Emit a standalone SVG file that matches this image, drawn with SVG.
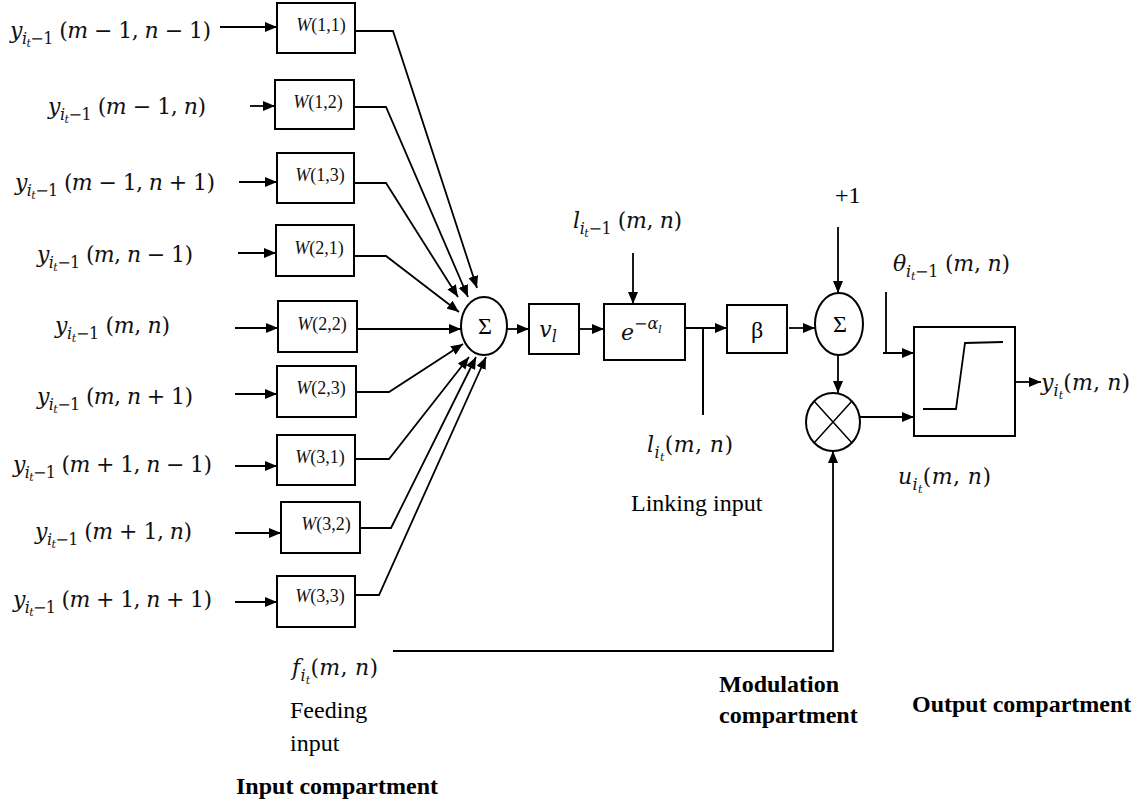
<svg xmlns="http://www.w3.org/2000/svg" width="1141" height="807" viewBox="0 0 1141 807">
<defs>
<marker id="ah" viewBox="0 0 12 10" refX="12" refY="5" markerWidth="12" markerHeight="10" markerUnits="userSpaceOnUse" orient="auto"><path d="M0,0 L12,5 L0,10 z" fill="#000"/></marker>
<style>
.box{fill:#fff;stroke:#000;stroke-width:2}
.ln{fill:none;stroke:#000;stroke-width:2}
.cn{fill:none;stroke:#000;stroke-width:1.8;marker-end:url(#ah)}
.m{font-family:"DejaVu Serif",serif;font-size:22px;fill:#111}
.i{font-style:italic}
.s{font-size:16px}
.ss{font-size:11px;font-style:italic}
.w{font-family:"Liberation Serif",serif;font-size:18px;fill:#111}
.t{font-family:"Liberation Serif",serif;font-size:24px;fill:#000}
.b{font-family:"Liberation Serif",serif;font-size:24px;font-weight:bold;fill:#000}
</style>
</defs>
<rect width="1141" height="807" fill="#fff"/>

<g id="input-labels">
<text class="m" x="10" y="38" textLength="201"><tspan class="i">y</tspan><tspan class="s i" dy="6">i</tspan><tspan class="ss" dy="3">t</tspan><tspan class="s" dy="-3">−1</tspan><tspan dy="-6"> (</tspan><tspan class="i">m</tspan> − 1, <tspan class="i">n</tspan> − 1)</text>
<text class="m" x="48" y="114" textLength="158"><tspan class="i">y</tspan><tspan class="s i" dy="6">i</tspan><tspan class="ss" dy="3">t</tspan><tspan class="s" dy="-3">−1</tspan><tspan dy="-6"> (</tspan><tspan class="i">m</tspan> − 1, <tspan class="i">n</tspan>)</text>
<text class="m" x="15" y="190" textLength="200"><tspan class="i">y</tspan><tspan class="s i" dy="6">i</tspan><tspan class="ss" dy="3">t</tspan><tspan class="s" dy="-3">−1</tspan><tspan dy="-6"> (</tspan><tspan class="i">m</tspan> − 1, <tspan class="i">n</tspan> + 1)</text>
<text class="m" x="37" y="262" textLength="156"><tspan class="i">y</tspan><tspan class="s i" dy="6">i</tspan><tspan class="ss" dy="3">t</tspan><tspan class="s" dy="-3">−1</tspan><tspan dy="-6"> (</tspan><tspan class="i">m</tspan>, <tspan class="i">n</tspan> − 1)</text>
<text class="m" x="55" y="333" textLength="115"><tspan class="i">y</tspan><tspan class="s i" dy="6">i</tspan><tspan class="ss" dy="3">t</tspan><tspan class="s" dy="-3">−1</tspan><tspan dy="-6"> (</tspan><tspan class="i">m</tspan>, <tspan class="i">n</tspan>)</text>
<text class="m" x="37" y="404" textLength="156"><tspan class="i">y</tspan><tspan class="s i" dy="6">i</tspan><tspan class="ss" dy="3">t</tspan><tspan class="s" dy="-3">−1</tspan><tspan dy="-6"> (</tspan><tspan class="i">m</tspan>, <tspan class="i">n</tspan> + 1)</text>
<text class="m" x="13" y="472" textLength="199"><tspan class="i">y</tspan><tspan class="s i" dy="6">i</tspan><tspan class="ss" dy="3">t</tspan><tspan class="s" dy="-3">−1</tspan><tspan dy="-6"> (</tspan><tspan class="i">m</tspan> + 1, <tspan class="i">n</tspan> − 1)</text>
<text class="m" x="35" y="539" textLength="157"><tspan class="i">y</tspan><tspan class="s i" dy="6">i</tspan><tspan class="ss" dy="3">t</tspan><tspan class="s" dy="-3">−1</tspan><tspan dy="-6"> (</tspan><tspan class="i">m</tspan> + 1, <tspan class="i">n</tspan>)</text>
<text class="m" x="13" y="607" textLength="199"><tspan class="i">y</tspan><tspan class="s i" dy="6">i</tspan><tspan class="ss" dy="3">t</tspan><tspan class="s" dy="-3">−1</tspan><tspan dy="-6"> (</tspan><tspan class="i">m</tspan> + 1, <tspan class="i">n</tspan> + 1)</text>
</g>

<g id="w11"><rect class="box" x="277" y="3" width="78" height="50"/><text class="w" x="321" y="31" text-anchor="middle"><tspan class="i">W</tspan>(1,1)</text></g>
<g id="w12"><rect class="box" x="275" y="80" width="79" height="49"/><text class="w" x="318" y="108" text-anchor="middle"><tspan class="i">W</tspan>(1,2)</text></g>
<g id="w13"><rect class="box" x="277" y="153" width="77" height="50"/><text class="w" x="320" y="181" text-anchor="middle"><tspan class="i">W</tspan>(1,3)</text></g>
<g id="w21"><rect class="box" x="276" y="225" width="78" height="51"/><text class="w" x="319" y="254" text-anchor="middle"><tspan class="i">W</tspan>(2,1)</text></g>
<g id="w22"><rect class="box" x="278" y="301" width="79" height="51"/><text class="w" x="322" y="330" text-anchor="middle"><tspan class="i">W</tspan>(2,2)</text></g>
<g id="w23"><rect class="box" x="277" y="366" width="79" height="51"/><text class="w" x="321" y="394" text-anchor="middle"><tspan class="i">W</tspan>(2,3)</text></g>
<g id="w31"><rect class="box" x="277" y="435" width="78" height="50"/><text class="w" x="320" y="463" text-anchor="middle"><tspan class="i">W</tspan>(3,1)</text></g>
<g id="w32"><rect class="box" x="281" y="502" width="79" height="51"/><text class="w" x="326" y="530" text-anchor="middle"><tspan class="i">W</tspan>(3,2)</text></g>
<g id="w33"><rect class="box" x="277" y="576" width="78" height="51"/><text class="w" x="320" y="602" text-anchor="middle"><tspan class="i">W</tspan>(3,3)</text></g>

<g id="sum1"><ellipse class="box" cx="484" cy="326" rx="23" ry="29"/><text class="t" x="485" y="334" text-anchor="middle">Σ</text></g>
<g id="vl"><rect class="box" x="529" y="304" width="50" height="50"/><text class="m" x="548" y="337" text-anchor="middle"><tspan class="i">v</tspan><tspan class="s i" dy="5">l</tspan></text></g>
<g id="exp"><rect class="box" x="604" y="304" width="81" height="56"/><text class="m" x="621" y="340"><tspan class="i">e</tspan><tspan class="s" dy="-11">−</tspan><tspan class="s i">α</tspan><tspan class="ss" dy="4">l</tspan></text></g>
<g id="beta"><rect class="box" x="727" y="305" width="60" height="48"/><text class="t" x="757" y="338" text-anchor="middle">β</text></g>
<g id="sum2"><ellipse class="box" cx="839" cy="324" rx="24" ry="31"/><text class="t" x="840" y="332" text-anchor="middle">Σ</text></g>
<g id="mult"><ellipse class="box" cx="833" cy="422" rx="27" ry="29"/><path class="ln" d="M814,401 L852,443 M852,401 L814,443" style="stroke-width:1.5"/></g>
<g id="output"><rect class="box" x="914" y="327" width="101" height="109"/><polyline class="ln" points="923,409 956,409 965,343 1003,342" style="stroke-width:1.8"/></g>

<g id="connectors">
<line class="cn" x1="220" y1="27" x2="277" y2="27"/>
<line class="cn" x1="250" y1="106" x2="275" y2="106"/>
<line class="cn" x1="239" y1="182" x2="277" y2="182"/>
<line class="cn" x1="238" y1="253" x2="276" y2="253"/>
<line class="cn" x1="235" y1="328" x2="278" y2="328"/>
<line class="cn" x1="235" y1="394" x2="277" y2="394"/>
<line class="cn" x1="235" y1="466" x2="277" y2="466"/>
<line class="cn" x1="235" y1="533" x2="281" y2="533"/>
<line class="cn" x1="235" y1="602" x2="277" y2="602"/>

<polyline class="cn" points="355,31 393,31 477,288"/>
<polyline class="cn" points="354,107 386,107 468,297"/>
<polyline class="cn" points="354,183 386,183 458,297"/>
<polyline class="cn" points="354,256 386,256 459,312"/>
<polyline class="cn" points="357,329 461,329"/>
<polyline class="cn" points="356,392 389,392 463,344"/>
<polyline class="cn" points="355,459 389,459 469,357"/>
<polyline class="cn" points="360,528 391,528 476,357"/>
<polyline class="cn" points="355,595 379,595 486,357"/>

<line class="cn" x1="507" y1="329" x2="529" y2="329"/>
<line class="cn" x1="579" y1="329" x2="604" y2="329"/>
<line class="cn" x1="633" y1="253" x2="633" y2="304"/>
<line class="cn" x1="685" y1="328" x2="727" y2="328"/>
<line class="ln" x1="703" y1="328" x2="703" y2="415"/>
<line class="cn" x1="789" y1="328" x2="815" y2="328"/>
<line class="cn" x1="838" y1="227" x2="838" y2="293"/>
<line class="cn" x1="838" y1="355" x2="838" y2="393"/>
<line class="cn" x1="860" y1="417" x2="914" y2="417"/>
<polyline class="cn" points="883,353 886,353 886,292 886,353 914,353"/>
<line class="cn" x1="1015" y1="382" x2="1041" y2="382"/>
<polyline class="cn" points="393,651 833,651 833,451"/>
</g>

<g id="labels">
<text class="m" x="573" y="228" textLength="109"><tspan class="i">l</tspan><tspan class="s i" dy="6">i</tspan><tspan class="ss" dy="3">t</tspan><tspan class="s" dy="-3">−1</tspan><tspan dy="-6"> (</tspan><tspan class="i">m</tspan>, <tspan class="i">n</tspan>)</text>
<text class="m" x="647" y="452" textLength="86"><tspan class="i">l</tspan><tspan class="s i" dy="6">i</tspan><tspan class="ss" dy="3">t</tspan><tspan dy="-9">(</tspan><tspan class="i">m</tspan>, <tspan class="i">n</tspan>)</text>
<text class="t" x="631" y="511">Linking input</text>
<text class="t" x="835" y="203">+1</text>
<text class="m" x="893" y="271" textLength="117"><tspan class="i">θ</tspan><tspan class="s i" dy="6">i</tspan><tspan class="ss" dy="3">t</tspan><tspan class="s" dy="-3">−1</tspan><tspan dy="-6"> (</tspan><tspan class="i">m</tspan>, <tspan class="i">n</tspan>)</text>
<text class="m" x="1041" y="390" textLength="89"><tspan class="i">y</tspan><tspan class="s i" dy="6">i</tspan><tspan class="ss" dy="3">t</tspan><tspan dy="-9">(</tspan><tspan class="i">m</tspan>, <tspan class="i">n</tspan>)</text>
<text class="m" x="898" y="484" textLength="93"><tspan class="i">u</tspan><tspan class="s i" dy="6">i</tspan><tspan class="ss" dy="3">t</tspan><tspan dy="-9">(</tspan><tspan class="i">m</tspan>, <tspan class="i">n</tspan>)</text>
<text class="m" x="292" y="675" textLength="86"><tspan class="i">f</tspan><tspan class="s i" dy="6">i</tspan><tspan class="ss" dy="3">t</tspan><tspan dy="-9">(</tspan><tspan class="i">m</tspan>, <tspan class="i">n</tspan>)</text>
<text class="t" x="290" y="718">Feeding</text>
<text class="t" x="290" y="751">input</text>
<text class="b" x="236" y="794">Input compartment</text>
<text class="b" x="719" y="692">Modulation</text>
<text class="b" x="719" y="723">compartment</text>
<text class="b" x="912" y="712">Output compartment</text>
</g>
</svg>
